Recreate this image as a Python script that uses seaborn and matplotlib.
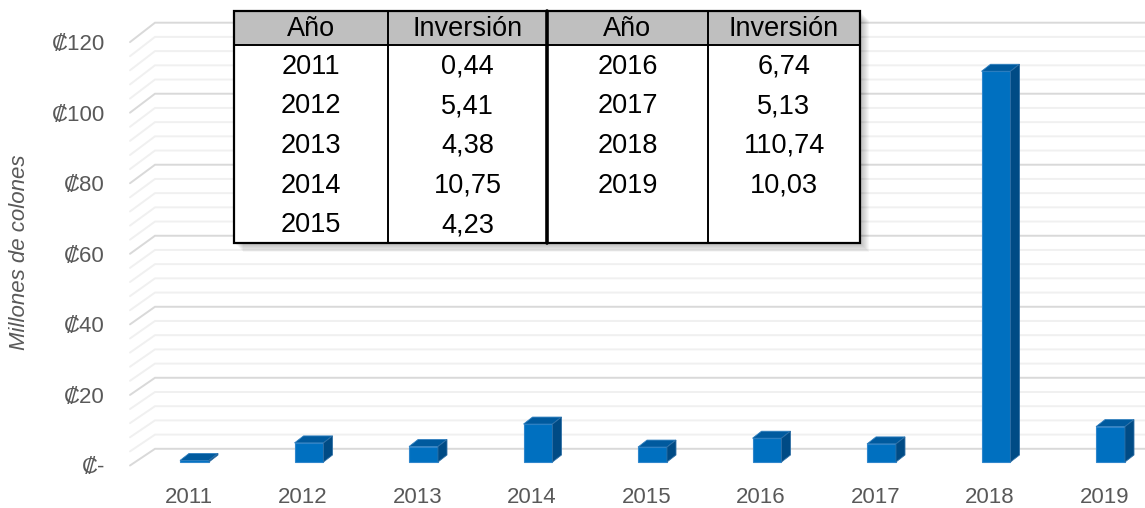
import numpy as np
import pandas as pd
import matplotlib
matplotlib.use("Agg")
import matplotlib.pyplot as plt
import seaborn as sns
from matplotlib.patches import Polygon, Rectangle
from matplotlib.transforms import ScaledTranslation

# ---- data ----
years = ["2011", "2012", "2013", "2014", "2015", "2016", "2017", "2018", "2019"]
investment = [0.44, 5.41, 4.38, 10.75, 4.23, 6.74, 5.13, 110.74, 10.03]
y_ticks = [0, 20, 40, 60, 80, 100, 120]
y_tick_labels = ["₡-", "₡20", "₡40", "₡60", "₡80", "₡100", "₡120"]
table_header = ["Año", "Inversión", "Año", "Inversión"]
y_label = "Millones de colones"

sns.set_theme(style="white")
plt.rcParams["font.family"] = ["Liberation Sans", "DejaVu Sans"]

W, H = 1145, 508
fig = plt.figure(figsize=(W / 100, H / 100), dpi=100)
fig.patch.set_facecolor("white")


def px_rect(l, t, r, b):
    return [l / W, 1 - b / H, (r - l) / W, (b - t) / H]


ax = fig.add_axes(px_rect(130, 42.1, 1145, 465.5))
df = pd.DataFrame({"year": years, "inv": investment})
sns.barplot(data=df, x="year", y="inv", color="#0070C0", width=0.253,
            saturation=1, ax=ax, zorder=3, linewidth=0.8, edgecolor="#2F86CC")

c0, sp = 188.5, 114.5
ax.set_xlim((130 - c0) / sp, (1145 - c0) / sp)
ax.set_ylim(0, 120)
for s in ax.spines.values():
    s.set_visible(False)
ax.grid(False)
ax.set_xlabel("")
ax.set_ylabel("")
ax.patch.set_alpha(0)

# pixel scales
o = ax.transData.transform((0, 0))
sx = ax.transData.transform((1, 0))[0] - o[0]
sy = ax.transData.transform((0, 1))[1] - o[1]
x0, x1 = ax.get_xlim()

# 3D-style wall gridlines
for v in np.arange(0, 121, 4):
    major = (v % 20 == 0)
    col = "#D9D9D9" if major else "#F0F0F0"
    dyp = 16.7 + 2.7 * v / 120
    xb = x0 + 25 / sx
    yb = v + dyp / sy
    ax.plot([x0, xb, x1], [v, yb, yb], color=col, lw=1.4, clip_on=False,
            zorder=1, solid_joinstyle="miter")

# 3D bars
bar_off = ax.transData + ScaledTranslation(6 / 100, 3.5 / 100, fig.dpi_scale_trans)
ddx, ddy = 9 / sx, 7 / sy
for p in list(ax.patches):
    x, w, h = p.get_x(), p.get_width(), p.get_height()
    p.set_transform(bar_off)
    p.set_clip_on(False)
    top = Polygon([(x, h), (x + w, h), (x + w + ddx, h + ddy), (x + ddx, h + ddy)],
                  closed=True, facecolor="#005A9E", edgecolor="#2F7FBF", lw=0.6,
                  transform=bar_off, clip_on=False, zorder=3)
    side = Polygon([(x + w, 0), (x + w + ddx, ddy), (x + w + ddx, h + ddy), (x + w, h)],
                   closed=True, facecolor="#004B85", edgecolor="#2F6FA5", lw=0.6,
                   transform=bar_off, clip_on=False, zorder=3)
    ax.add_patch(top)
    ax.add_patch(side)

ax.set_yticks(y_ticks, y_tick_labels)
ax.tick_params(axis="y", length=0, pad=18, labelsize=16, labelcolor="#595959")
ax.tick_params(axis="x", length=0, pad=15.5, labelsize=16, labelcolor="#595959")

fig.text(20 / W, 1 - 252 / H, y_label, rotation=90, style="italic",
         fontsize=16, color="#595959", ha="center", va="center")

# ---- table overlay ----
tax = fig.add_axes([0, 0, 1, 1], zorder=10)
tax.set_xlim(0, W)
tax.set_ylim(H, 0)
tax.axis("off")
tax.patch.set_alpha(0)

L, R, T, B = 234, 860, 11, 243
col_edges = [234, 388, 547, 708, 860]
hdr_b = 45
nrows = 5
row_h = (B - hdr_b) / nrows

for i in range(9):
    tax.add_patch(Rectangle((L + 1 + i, T + 1 + i), R - L, B - T,
                            facecolor="black", alpha=0.03, edgecolor="none"))
tax.add_patch(Rectangle((L, T), R - L, B - T, facecolor="white", edgecolor="none"))
tax.add_patch(Rectangle((L, T), R - L, hdr_b - T, facecolor="#BFBFBF", edgecolor="none"))
tax.plot([L, R], [hdr_b, hdr_b], color="black", lw=1.4)
for i, xe in enumerate(col_edges[1:-1]):
    tax.plot([xe, xe], [T, B], color="black", lw=2.6 if i == 1 else 1.4)
tax.add_patch(Rectangle((L, T), R - L, B - T, facecolor="none", edgecolor="black", lw=1.6))

centers = [(col_edges[k] + col_edges[k + 1]) / 2 for k in range(4)]
for k, t in enumerate(table_header):
    tax.text(centers[k], (T + hdr_b) / 2 + 1, t, ha="center", va="center",
             fontsize=19.5, color="black")


def fmt(v):
    return f"{v:.2f}".replace(".", ",")


halves = [(years[:5], investment[:5]), (years[5:], investment[5:])]
for hidx, (ys, vs) in enumerate(halves):
    for r, (yy, vv) in enumerate(zip(ys, vs)):
        cy = hdr_b + row_h * (r + 0.5) + 2
        tax.text(centers[2 * hidx], cy, yy, ha="center", va="center",
                 fontsize=19.5, color="black")
        tax.text(centers[2 * hidx + 1], cy, fmt(vv), ha="center", va="center",
                 fontsize=19.5, color="black")

fig.savefig("out.png", dpi=100, facecolor="white")
